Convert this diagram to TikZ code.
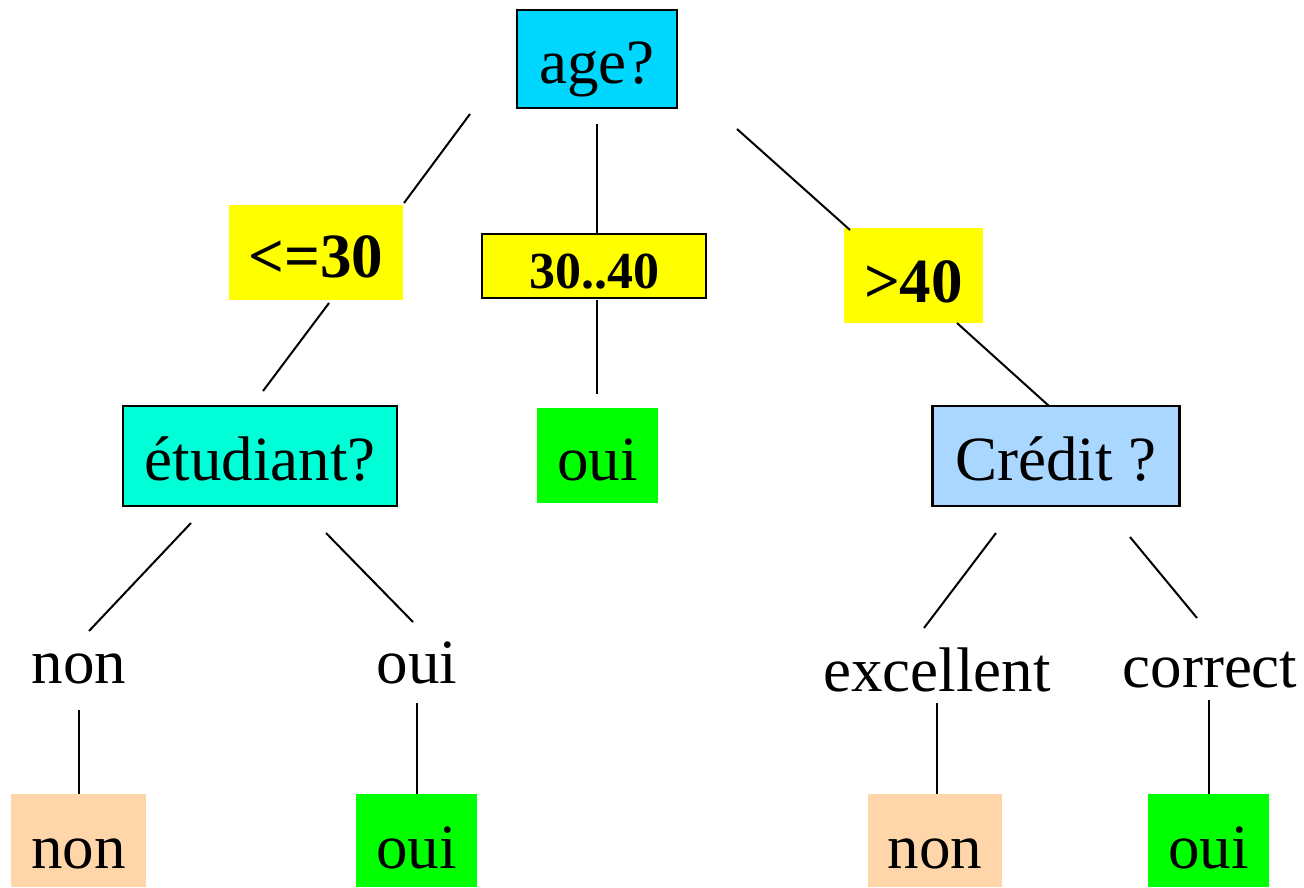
\documentclass[tikz,border=0pt]{standalone}
\usepackage{fontspec}
\setmainfont{Liberation Serif}
\definecolor{agecol}{RGB}{0,215,255}
\definecolor{etucol}{RGB}{0,255,215}
\definecolor{credcol}{RGB}{170,215,255}
\definecolor{ylw}{RGB}{255,255,0}
\definecolor{grn}{RGB}{0,255,0}
\definecolor{peach}{RGB}{255,213,170}
\begin{document}
\begin{tikzpicture}[x=1pt,y=-1pt,
  base/.style={inner sep=0pt,text depth=0pt,font=\fontsize{63}{70}\selectfont},
  qbox/.style={base,draw=black,line width=2.5pt,text height=48pt},
  cond/.style={base,fill=ylw,font=\fontsize{63}{70}\selectfont\bfseries},
  leafyes/.style={base,fill=grn},
  leafno/.style={base,fill=peach},
  lbl/.style={base,anchor=base},
  link/.style={line width=2pt}]
\useasboundingbox (0,0) rectangle (1304,887);
% question nodes
\node[qbox,fill=agecol,minimum width=160pt,minimum height=98pt] (age) at (597,59) {age?};
\node[qbox,fill=etucol,minimum width=274pt,minimum height=100pt] (etu) at (260,456) {étudiant?};
\node[qbox,fill=credcol,minimum width=247pt,minimum height=100pt] (cred) at (1056,456) {Crédit ?};
% condition nodes
\node[cond,text height=50pt,minimum width=174pt,minimum height=95pt] (le30) at (316,252) {<=30};
\node[base,draw=black,line width=2.5pt,fill=ylw,font=\fontsize{52}{58}\selectfont\bfseries,text height=44pt,minimum width=224pt,minimum height=64pt] (mid) at (594,266) {30..40};
\node[cond,text height=53pt,minimum width=139pt,minimum height=95pt] (gt40) at (913.5,275.5) {>40};
% plain labels
\node[lbl] (tnon) at (79,683) {non};
\node[lbl] (toui) at (417,683) {oui};
\node[lbl] (texc) at (937,691) {excellent};
\node[lbl] (tcor) at (1210,687) {correct};
% leaves
\node[leafyes,text height=49pt,minimum width=121pt,minimum height=95pt] (lmid) at (597.5,455.5) {oui};
\node[leafno,text height=55pt,minimum width=135pt,minimum height=93pt] (lnon1) at (78.5,840.5) {non};
\node[leafyes,text height=55pt,minimum width=121pt,minimum height=93pt] (loui1) at (416.5,840.5) {oui};
\node[leafno,text height=55pt,minimum width=134pt,minimum height=93pt] (lnon2) at (935,840.5) {non};
\node[leafyes,text height=55pt,minimum width=121pt,minimum height=93pt] (loui2) at (1208.5,840.5) {oui};
% connector end points
\coordinate (a1) at (470,114); \coordinate (b1) at (404,203);
\coordinate (a2) at (597,124); \coordinate (b2) at (597,234);
\coordinate (a3) at (737,129); \coordinate (b3) at (850,230);
\coordinate (a4) at (329,303); \coordinate (b4) at (263,391);
\coordinate (a5) at (597,300); \coordinate (b5) at (597,394);
\coordinate (a6) at (957,323); \coordinate (b6) at (1049,406);
\coordinate (a7) at (191,523); \coordinate (b7) at (89,631);
\coordinate (a8) at (326,533); \coordinate (b8) at (413,622);
\coordinate (a9) at (79,710); \coordinate (b9) at (79,794);
\coordinate (a10) at (417,703); \coordinate (b10) at (417,794);
\coordinate (a11) at (996,533); \coordinate (b11) at (924,628);
\coordinate (a12) at (1130,537); \coordinate (b12) at (1197,618);
\coordinate (a13) at (937,703); \coordinate (b13) at (937,794);
\coordinate (a14) at (1209,700); \coordinate (b14) at (1209,794);
\foreach \i in {1,...,14} {\draw[link] (a\i) -- (b\i);}
\end{tikzpicture}
\end{document}
